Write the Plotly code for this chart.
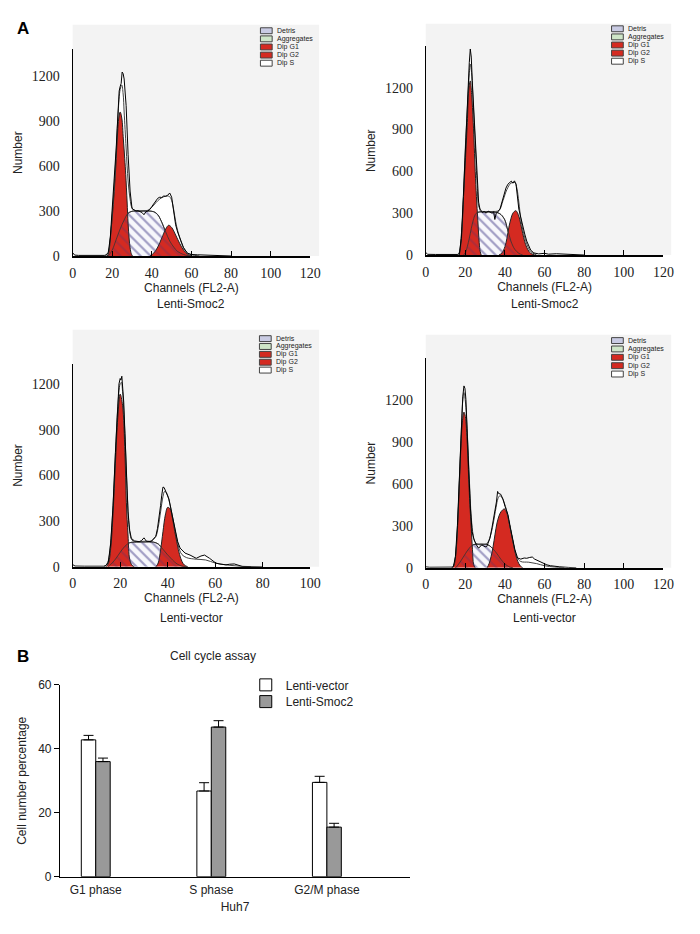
import plotly.graph_objects as go

# page is 700x934; the body keeps its 8px margin, so the figure itself is 16px smaller
W, H = 684, 918
OFF = 8

# %% Panel A - flow histograms
# top-left : Lenti-Smoc2
p1_data_ch = [0, 0.5, 1, 3, 8, 14, 16, 17, 18, 19, 20, 21, 22, 22.5, 23, 23.5, 24, 24.5, 25, 25.5,
              26, 26.5, 27, 28, 29, 30, 31, 32, 33, 34, 35, 36, 37, 38, 39, 40, 41, 42, 43, 44,
              45, 46, 47, 48, 49, 50, 51, 52, 53, 54, 55, 56, 58, 60, 63, 66, 70, 75, 78, 80]
p1_data_n = [22, 12, 6, 4, 3, 3, 4, 8, 25, 120, 300, 480, 720, 850, 1000, 1100, 1130, 1150, 1226, 1215,
             1180, 1100, 1003, 675, 433, 315, 305, 300, 302, 295, 290, 275, 295, 300, 310, 330, 350, 365, 385, 392,
             390, 400, 398, 405, 420, 392, 306, 208, 160, 120, 85, 55, 18, 10, 8, 6, 5, 4, 2, 0]
p1_fit_ch = [16, 17, 18, 19, 20, 21, 22, 23, 24, 24.8, 25.5, 26, 27, 28, 29, 30, 32, 34, 36, 38,
             40, 42, 44, 46, 48, 49, 50, 51, 52, 53, 54, 55, 56, 58, 60, 64]
p1_fit_n = [0, 5, 20, 110, 280, 460, 700, 960, 1110, 1140, 1080, 960, 720, 500, 380, 320, 300, 298, 300, 305,
            325, 355, 380, 395, 400, 395, 370, 310, 230, 170, 125, 85, 55, 20, 8, 0]
p1_g1_ch = [17.5, 18.2, 18.9, 20, 21, 21.8, 22.6, 23.3, 24, 24.8, 25.6, 26.3, 26.8, 27.5, 28, 28.5, 29, 29.6, 30.2]
p1_g1_n = [0, 20, 107, 260, 430, 600, 800, 920, 960, 920, 780, 650, 544, 360, 216, 120, 55, 15, 0]
p1_s_ch = [18, 20, 22, 24, 26, 28, 30, 34, 38, 41, 43, 45, 47, 49, 51, 53, 56, 59]
p1_s_n = [0, 40, 110, 180, 240, 285, 298, 300, 300, 295, 275, 225, 160, 100, 60, 30, 10, 0]
p1_g2_ch = [39, 41, 43, 45, 47, 48.5, 50, 52, 54, 56, 58, 60]
p1_g2_n = [0, 20, 60, 120, 180, 205, 190, 140, 85, 40, 12, 0]

# top-right : Lenti-Smoc2
p2_data_ch = [0, 0.5, 1, 5, 12, 16, 17, 18, 19, 20, 21, 21.5, 22, 22.5, 23, 23.5, 24, 25, 25.8, 26.7,
              27.5, 28.5, 29.5, 30.5, 31.5, 32.5, 33.5, 34.3, 34.9, 35.6, 36.5, 37.5, 38.5, 39.5, 40.5, 41.5, 42.5, 43.2, 44, 44.8,
              45.6, 46.3, 47, 48, 49, 50, 51, 52, 53, 54.6, 57, 60, 62, 66, 70, 75, 80]
p2_data_n = [18, 10, 5, 4, 3, 4, 10, 120, 420, 760, 1060, 1210, 1380, 1478, 1420, 1250, 1100, 850, 600, 380,
             320, 305, 312, 300, 315, 305, 300, 310, 255, 300, 310, 330, 380, 430, 480, 508, 520, 530, 515, 532,
             508, 430, 330, 270, 200, 150, 100, 60, 35, 15, 8, 12, 6, 9, 5, 3, 0]
p2_fit_ch = [16, 17, 18, 19, 20, 21, 22, 22.5, 23, 24, 25, 26, 27, 29, 33, 37, 39, 41, 43, 45,
             46, 47, 48, 49, 51, 53, 56]
p2_fit_n = [0, 20, 110, 400, 770, 1050, 1300, 1370, 1330, 1080, 800, 500, 340, 310, 312, 320, 390, 470, 515, 520,
            480, 380, 260, 180, 80, 25, 0]
p2_g1_ch = [17, 17.6, 18.5, 19.3, 20.1, 21, 21.7, 22.5, 23.2, 24, 25, 25.6, 26.3, 27, 27.5, 28]
p2_g1_n = [0, 80, 250, 480, 700, 950, 1180, 1249, 1150, 950, 600, 420, 249, 90, 25, 0]
p2_s_ch = [19, 20, 21, 22, 23, 24, 25, 26, 28, 32, 36, 38, 40, 41, 42, 43, 44, 45, 47, 49]
p2_s_n = [0, 15, 60, 120, 190, 250, 290, 305, 310, 310, 305, 290, 250, 200, 150, 100, 65, 40, 12, 0]
p2_g2_ch = [37, 38.5, 40, 41, 42, 43, 44, 45.5, 47, 48, 49, 50, 51, 52, 53, 55]
p2_g2_n = [0, 15, 60, 120, 200, 260, 300, 318, 280, 220, 155, 95, 55, 28, 12, 0]

# bottom-left : Lenti-vector
p3_data_ch = [0, 0.5, 1, 5, 10, 13, 14, 15, 16, 17, 18, 19, 19.5, 20, 20.3, 20.7, 21, 21.5, 22, 22.5,
              23.3, 24, 24.7, 26, 27, 28, 29, 30, 30.5, 31, 33, 35, 35.7, 36.5, 37, 37.5, 38, 38.5, 39, 40,
              40.5, 41.8, 43.2, 44.2, 45.2, 47.3, 49.4, 52, 54, 55.5, 57.6, 60.3, 62, 64.5, 66, 68, 71.3, 75, 80]
p3_data_n = [15, 8, 5, 4, 3, 4, 8, 30, 150, 400, 750, 1080, 1200, 1235, 1225, 1250, 1200, 1080, 876, 620,
             361, 240, 187, 170, 168, 165, 172, 190, 180, 168, 165, 200, 252, 330, 402, 470, 523, 520, 500, 470,
             445, 345, 235, 165, 123, 90, 77, 56, 71, 77, 56, 24, 18, 13, 17, 19, 3, 2, 0]
p3_fit_ch = [13, 14, 15, 16, 17, 18, 19, 20, 20.5, 21, 22, 23, 24, 25, 27, 30, 33, 35, 36, 37,
             38, 38.7, 39.5, 40.5, 42, 43, 44, 45, 46, 48, 52, 56, 60, 65, 70, 75]
p3_fit_n = [0, 10, 40, 160, 400, 740, 1050, 1200, 1210, 1150, 870, 470, 230, 175, 165, 168, 170, 200, 260, 360,
            460, 495, 485, 440, 330, 250, 170, 110, 80, 60, 50, 45, 25, 12, 4, 0]
p3_g1_ch = [14, 15, 16, 17, 18, 19, 20, 21, 22, 22.6, 23.3, 24, 25, 26]
p3_g1_n = [0, 20, 120, 350, 680, 980, 1133, 1060, 750, 424, 209, 50, 10, 0]
p3_s_ch = [15, 16, 18, 20, 22, 24, 26, 30, 34, 36, 38, 40, 42, 44, 46, 48]
p3_s_n = [0, 15, 50, 95, 135, 158, 162, 163, 162, 150, 115, 78, 45, 18, 5, 0]
p3_g2_ch = [35, 36, 37, 38, 39, 40, 41, 42, 43, 44, 45, 46, 47, 48.5]
p3_g2_n = [0, 25, 110, 230, 340, 390, 380, 320, 230, 150, 80, 35, 12, 0]

# bottom-right : Lenti-vector
p4_data_ch = [0, 0.5, 2, 6, 12, 13.5, 14, 15, 16, 17, 18, 18.7, 19.3, 19.8, 20.3, 21, 21.7, 22.6, 23.4, 24.2,
              25.5, 26.7, 27.5, 28.3, 29, 30, 30.8, 31.6, 32.4, 33.5, 34.9, 35.7, 36.3, 36.8, 37.8, 38.5, 39, 40, 41.5, 42.7,
              44, 45, 46.4, 48, 49.7, 51, 52.5, 53.8, 55, 57.1, 59, 61.2, 63, 65, 67.7, 72, 76]
p4_data_n = [10, 6, 4, 3, 3, 5, 10, 80, 300, 650, 1020, 1220, 1298, 1280, 1200, 1000, 700, 420, 260, 210,
             165, 140, 150, 164, 158, 150, 152, 175, 210, 290, 398, 470, 545, 530, 526, 505, 491, 440, 380, 290,
             200, 130, 70, 62, 70, 68, 74, 77, 62, 47, 32, 21, 15, 10, 7, 3, 0]
p4_fit_ch = [13, 14, 15, 16, 17, 18, 18.7, 19.3, 20, 21, 22, 23, 24, 25, 27, 29, 31, 32.5, 34, 35.5,
             36.5, 37.5, 38.5, 39.5, 41, 42, 43, 44, 45, 46, 48, 52, 56, 60, 65, 70]
p4_fit_n = [0, 12, 80, 290, 630, 990, 1190, 1250, 1190, 960, 640, 360, 230, 180, 165, 165, 175, 220, 310, 430,
            495, 515, 500, 470, 400, 330, 260, 190, 125, 75, 45, 40, 30, 15, 5, 0]
p4_g1_ch = [13.5, 14.5, 15.5, 16.5, 17.5, 18.5, 19.3, 20, 21, 21.7, 22.3, 23, 23.6, 24.2, 25]
p4_g1_n = [0, 30, 150, 420, 780, 1040, 1111, 1080, 880, 632, 450, 281, 130, 23, 0]
p4_s_ch = [15, 16, 18, 20, 22, 24, 26, 30, 32, 34, 36, 38, 40, 42, 44]
p4_s_n = [0, 15, 55, 100, 140, 165, 168, 168, 160, 135, 100, 60, 28, 8, 0]
p4_g2_ch = [31, 32, 33, 34, 35, 36, 37, 38, 39.7, 41, 42, 43, 44, 45, 46, 47, 48, 49]
p4_g2_n = [0, 30, 80, 150, 240, 320, 370, 400, 420, 390, 330, 260, 190, 120, 65, 30, 10, 0]
p4_gate_ch = 54

legend_labels = ['Detris', 'Aggregates', 'Dip G1', 'Dip G2', 'Dip S']
count_ticks = [0, 300, 600, 900, 1200]

# %% Panel B - cell cycle bars
phases = ['G1 phase', 'S phase', 'G2/M phase']
vector_pct = [42.8, 26.8, 29.5]
vector_err = [1.4, 2.6, 1.9]
smoc2_pct = [36.0, 46.8, 15.5]
smoc2_err = [1.1, 2.0, 1.2]

RED = '#d42a21'
SANS = 'Liberation Sans'
SERIF = 'Liberation Serif'


# page pixel -> paper fraction
def px(x):
    return (x - OFF) / W


def py(y):
    return 1 - (y - OFF) / H


fig = go.Figure()


def add_hist(i, data, fit, g1, s, g2):
    xa = 'x' if i == 1 else f'x{i}'
    ya = 'y' if i == 1 else f'y{i}'
    common = dict(xaxis=xa, yaxis=ya, mode='lines', showlegend=False, hoverinfo='skip')
    # area under the measured histogram (white)
    fig.add_trace(go.Scatter(x=data[0], y=data[1], line=dict(width=0), fill='tozeroy',
                             fillcolor='white', **common))
    # S phase, hatched
    fig.add_trace(go.Scatter(x=s[0], y=s[1], line=dict(color='#333', width=1, shape='spline'),
                             fill='tozeroy', fillcolor='#f7f7fb',
                             fillpattern=dict(shape='\\', fgcolor='#8d92c6', bgcolor='#f7f7fb',
                                              size=7, solidity=0.3), **common))
    # G1 and G2 peaks
    for g in (g1, g2):
        fig.add_trace(go.Scatter(x=g[0], y=g[1], line=dict(color='#222', width=1, shape='spline'),
                                 fill='tozeroy', fillcolor=RED, **common))
    # S phase hatch showing through the red
    fig.add_trace(go.Scatter(x=s[0], y=s[1], line=dict(color='#333', width=0.8, shape='spline'),
                             fill='tozeroy', fillcolor='rgba(0,0,0,0)',
                             fillpattern=dict(shape='\\', fgcolor='rgba(70,50,120,0.55)',
                                              bgcolor='rgba(0,0,0,0)', size=7, solidity=0.3), **common))
    # model fit and raw data lines
    fig.add_trace(go.Scatter(x=fit[0], y=fit[1], line=dict(color='#444', width=1, shape='spline'), **common))
    fig.add_trace(go.Scatter(x=data[0], y=data[1], line=dict(color='black', width=1), **common))


add_hist(1, (p1_data_ch, p1_data_n), (p1_fit_ch, p1_fit_n), (p1_g1_ch, p1_g1_n), (p1_s_ch, p1_s_n), (p1_g2_ch, p1_g2_n))
add_hist(2, (p2_data_ch, p2_data_n), (p2_fit_ch, p2_fit_n), (p2_g1_ch, p2_g1_n), (p2_s_ch, p2_s_n), (p2_g2_ch, p2_g2_n))
add_hist(3, (p3_data_ch, p3_data_n), (p3_fit_ch, p3_fit_n), (p3_g1_ch, p3_g1_n), (p3_s_ch, p3_s_n), (p3_g2_ch, p3_g2_n))
add_hist(4, (p4_data_ch, p4_data_n), (p4_fit_ch, p4_fit_n), (p4_g1_ch, p4_g1_n), (p4_s_ch, p4_s_n), (p4_g2_ch, p4_g2_n))

# gate marker under the last histogram
fig.add_trace(go.Scatter(x=[p4_gate_ch], y=[-30], xaxis='x4', yaxis='y4', mode='markers',
                         marker=dict(symbol='triangle-up', size=7, color='black'),
                         cliponaxis=False, showlegend=False, hoverinfo='skip'))

# bars (each series gets its own one-row legend so the rows sit 17px apart)
fig.add_trace(go.Bar(x=phases, y=vector_pct, name='Lenti-vector', xaxis='x5', yaxis='y5', legend='legend',
                     marker=dict(color='white', line=dict(color='black', width=1)),
                     error_y=dict(type='data', symmetric=False, array=vector_err, arrayminus=[0] * 3,
                                  color='black', thickness=1, width=5)))
fig.add_trace(go.Bar(x=phases, y=smoc2_pct, name='Lenti-Smoc2', xaxis='x5', yaxis='y5', legend='legend2',
                     marker=dict(color='#999999', line=dict(color='black', width=1)),
                     error_y=dict(type='data', symmetric=False, array=smoc2_err, arrayminus=[0] * 3,
                                  color='black', thickness=1, width=5)))

# %% Axes
# (x0, x1, ybottom, ytop) in page pixels, x range end, y range end
panels = {
    1: ((70, 313, 253, 43), 120, 1377),
    2: ((431, 674, 252, 40), 120, 1496),
    3: ((70, 313, 569, 363), 100, 1329),
    4: ((431, 674, 570, 357), 120, 1495),
}
axes = {}
for i, ((x0, x1, yb, yt), xmax, ymax) in panels.items():
    sfx = '' if i == 1 else str(i)
    axes['xaxis' + sfx] = dict(domain=[px(x0), px(x1)], range=[0, xmax], anchor='y' + sfx,
                               showline=True, linecolor='black', linewidth=1.5, ticks='inside',
                               ticklen=5, tickcolor='black', dtick=20, showgrid=False, zeroline=False,
                               ticklabelstandoff=3,
                               tickfont=dict(family=SERIF, size=14, color='#222'),
                               title=dict(text='Channels (FL2-A)', standoff=3,
                                          font=dict(family=SANS, size=12, color='#222')))
    axes['yaxis' + sfx] = dict(domain=[py(yb), py(yt)], range=[0, ymax], anchor='x' + sfx,
                               showline=True, linecolor='black', linewidth=1, ticks='',
                               tickvals=count_ticks, showgrid=False, zeroline=False,
                               ticklabelstandoff=9,
                               tickfont=dict(family=SERIF, size=14, color='#222'),
                               title=dict(text='Number', standoff=6,
                                          font=dict(family=SANS, size=12, color='#222')))

axes['xaxis5'] = dict(domain=[px(57), px(415)], range=[-0.31, 2.72], anchor='y5',
                      showline=True, linecolor='black', linewidth=1, ticks='', showgrid=False,
                      ticklabelstandoff=2,
                      tickfont=dict(family=SANS, size=12, color='#222'),
                      title=dict(text='Huh7', standoff=6, font=dict(family=SANS, size=12, color='#222')))
axes['yaxis5'] = dict(domain=[py(884), py(689)], range=[0, 60], anchor='x5', dtick=20,
                      showline=True, linecolor='black', linewidth=1, ticks='outside', ticklen=5,
                      tickcolor='black', showgrid=False, zeroline=False,
                      tickfont=dict(family=SANS, size=12, color='#222'),
                      title=dict(text='Cell number percentage', standoff=8,
                                 font=dict(family=SANS, size=12, color='#222')))

legend_style = dict(x=px(247), xanchor='left', yanchor='middle', bgcolor='rgba(0,0,0,0)',
                    font=dict(family=SANS, size=12, color='#222'))

fig.update_layout(width=W, height=H, margin=dict(l=0, r=0, t=0, b=0),
                  paper_bgcolor='white', plot_bgcolor='rgba(0,0,0,0)',
                  barmode='group', bargap=0.75, bargroupgap=0,
                  font=dict(family=SANS, size=12, color='#222'),
                  title=dict(text='Cell cycle assay', x=px(213), xanchor='center', y=py(656),
                             yanchor='middle', font=dict(family=SANS, size=12, color='#222')),
                  legend=dict(y=py(689), **legend_style),
                  legend2=dict(y=py(706), **legend_style),
                  **axes)

# grey plot backgrounds
for x0, x1, y0, y1 in [(70, 322, 18, 253), (431, 682, 17, 252), (70, 322, 328, 569), (431, 682, 333, 570)]:
    fig.add_shape(type='rect', xref='paper', yref='paper', x0=px(x0), x1=px(x1), y0=py(y1), y1=py(y0),
                  fillcolor='#f3f3f3', line=dict(width=0), layer='below')

# small ModFit-style legends
legend_fill = ['#c9cbe3', '#cfe6c8', RED, RED, 'white']
for bx, by, dy in [(262, 24, 8.25), (621, 22, 8.25), (261, 337, 8), (621, 339, 8.5)]:
    for k, (lab, col) in enumerate(zip(legend_labels, legend_fill)):
        yc = by + k * dy
        fig.add_shape(type='rect', xref='paper', yref='paper', x0=px(bx), x1=px(bx + 12),
                      y0=py(yc + 3), y1=py(yc - 3), fillcolor=col, line=dict(color='#444', width=1))
        fig.add_annotation(x=px(bx + 15), y=py(yc), xref='paper', yref='paper', text=lab,
                           showarrow=False, xanchor='left', yanchor='middle',
                           font=dict(family=SANS, size=7, color='#222'))

# sample labels under the histograms
for xc, yc, lab in [(191.5, 302, 'Lenti-Smoc2'), (552.5, 302, 'Lenti-Smoc2'),
                    (191.5, 621, 'Lenti-vector'), (552.5, 621, 'Lenti-vector')]:
    fig.add_annotation(x=px(xc), y=py(yc), xref='paper', yref='paper', text=lab, showarrow=False,
                       xanchor='center', yanchor='middle', font=dict(family=SANS, size=12, color='#222'))

# panel letters
for yc, lab in [(22, 'A'), (660, 'B')]:
    fig.add_annotation(x=px(19), y=py(yc), xref='paper', yref='paper', text=f'<b>{lab}</b>',
                       showarrow=False, xanchor='center', yanchor='middle',
                       font=dict(family=SANS, size=17, color='black'))

fig.write_html("out.html")
